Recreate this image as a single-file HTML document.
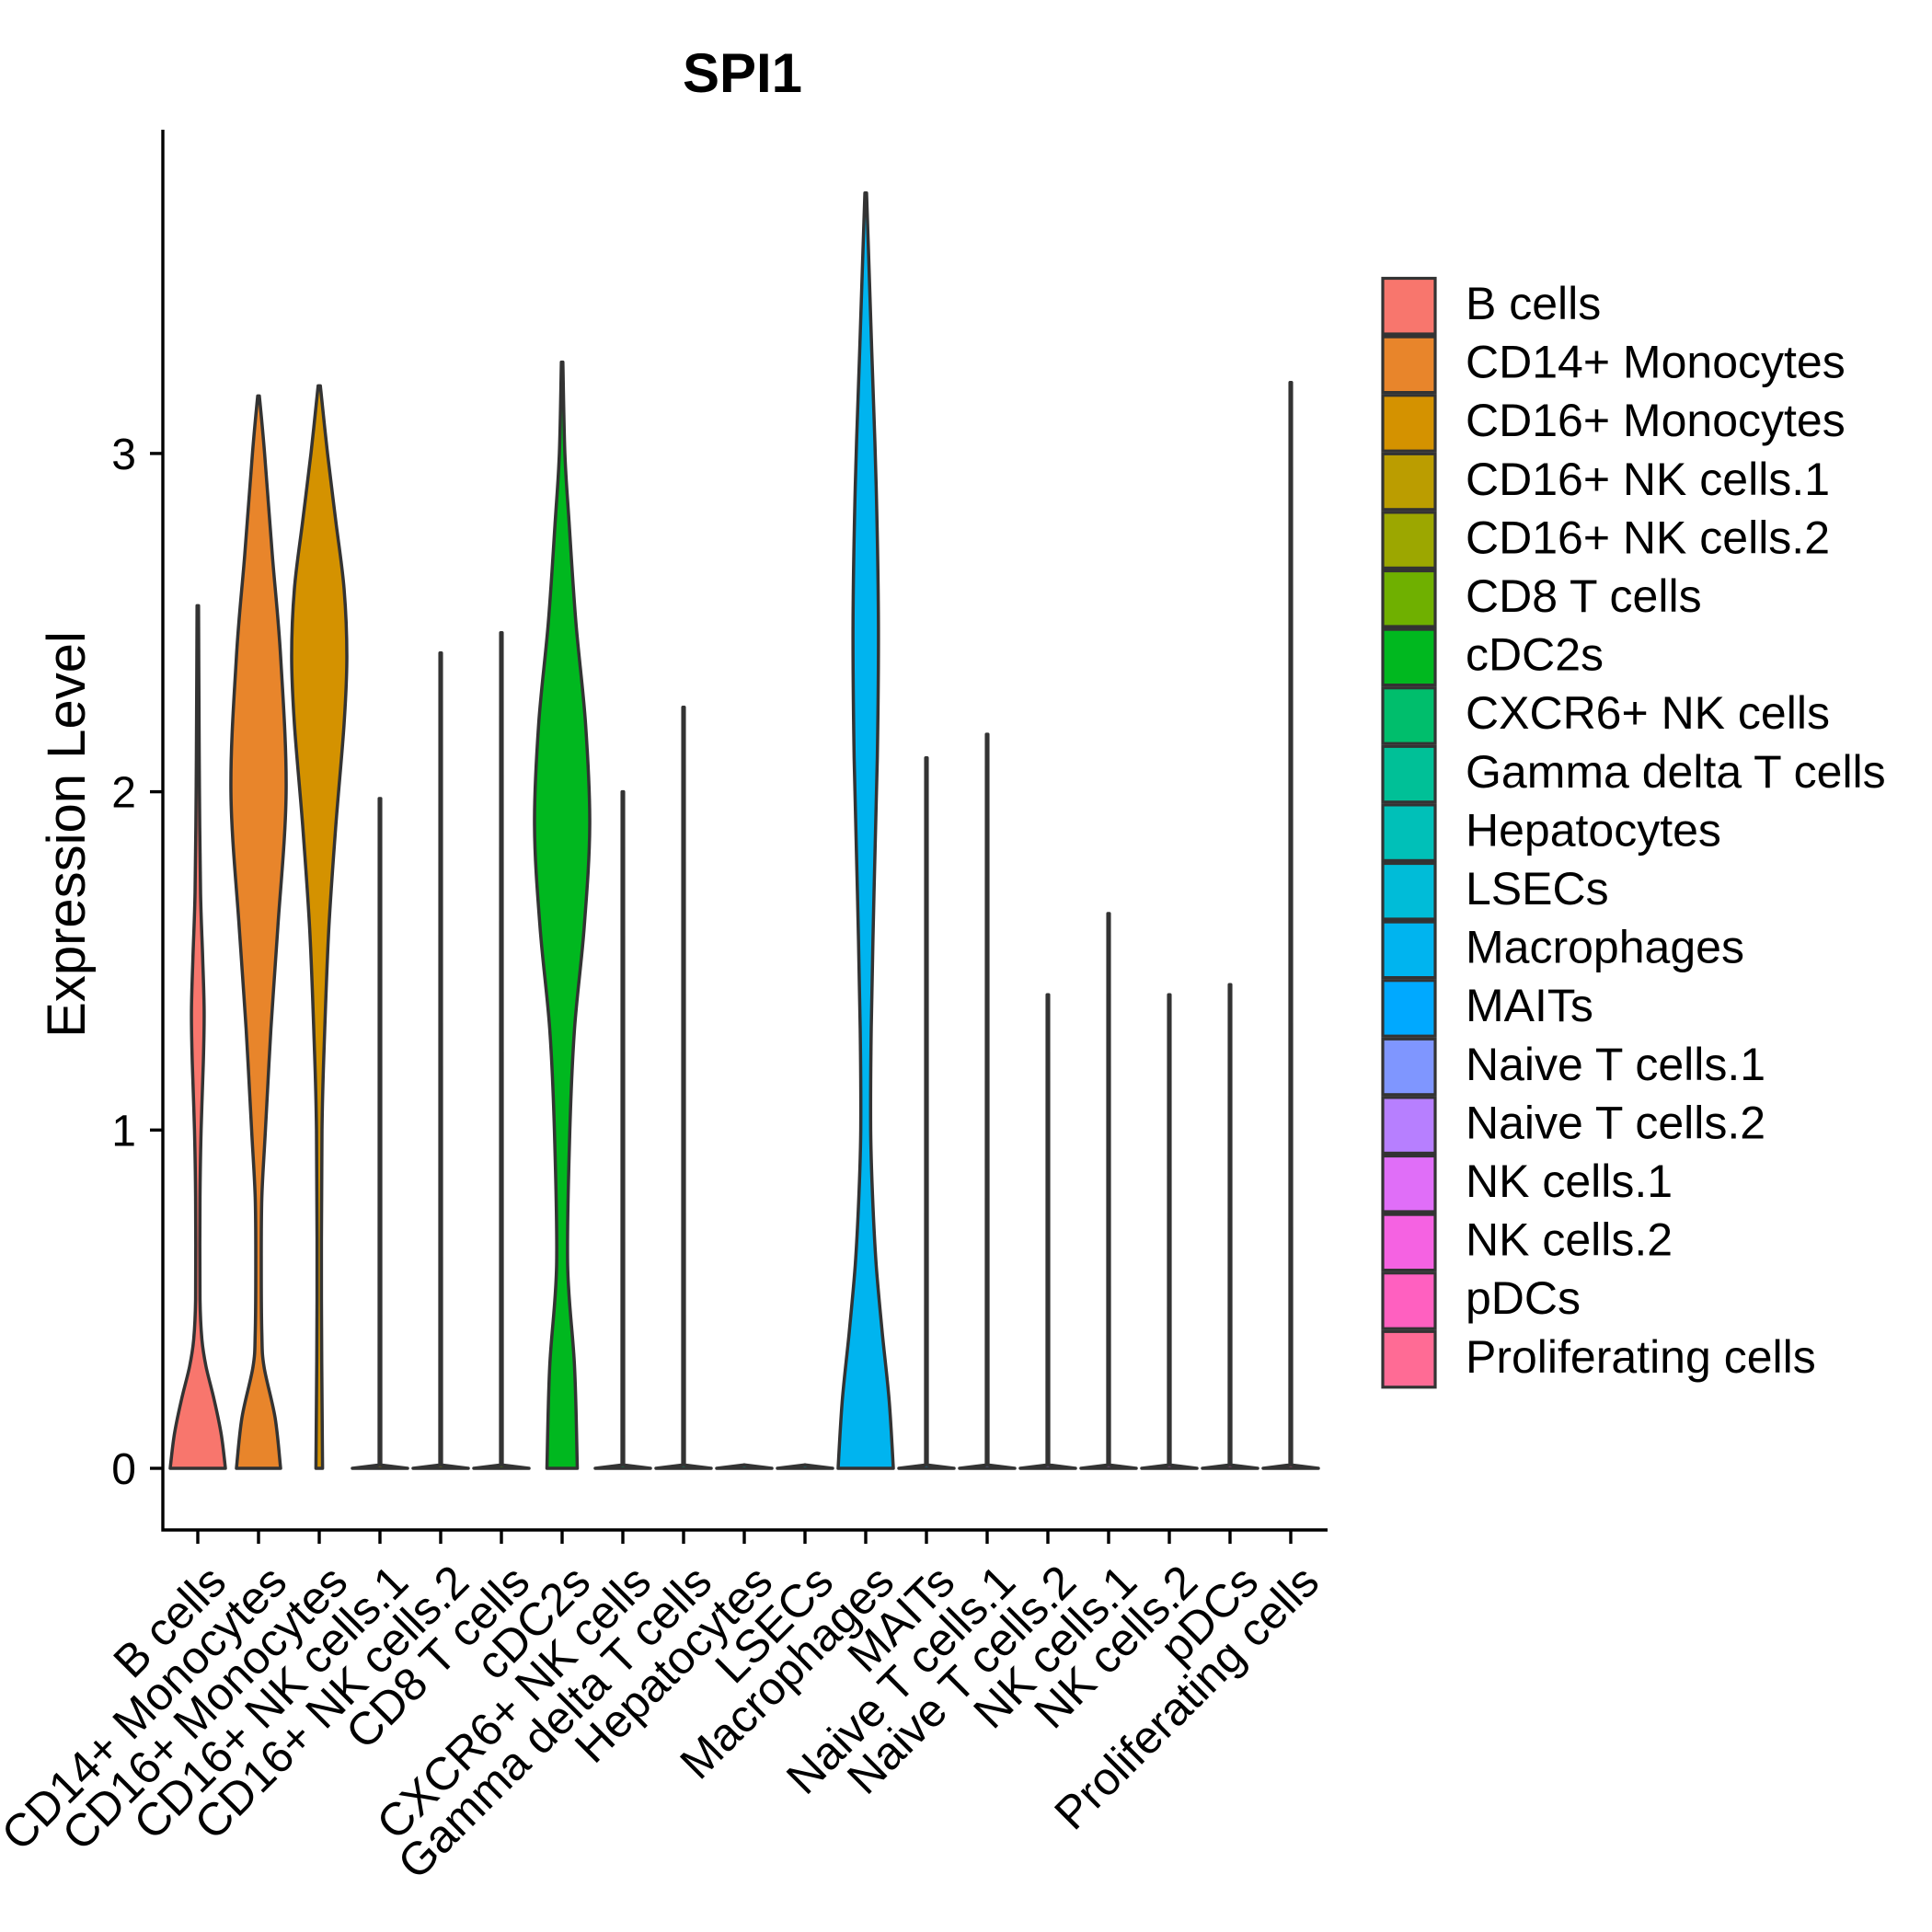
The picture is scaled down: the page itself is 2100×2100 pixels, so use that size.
<!DOCTYPE html>
<html><head><meta charset="utf-8"><style>
html,body{margin:0;padding:0;background:#fff;}
svg{display:block;font-family:"Liberation Sans",Arial,sans-serif;}
</style></head><body>
<svg id="chart" width="2100" height="2100" viewBox="0 0 2100 2100" xmlns="http://www.w3.org/2000/svg">
<text x="807" y="100" text-anchor="middle" font-size="60" font-weight="bold">SPI1</text>
<text transform="translate(92,907) rotate(-90)" text-anchor="middle" font-size="58">Expression Level</text>
<g id="plot"></g>
<g id="legend"></g>
</svg>
<script>
const categories=["B cells","CD14+ Monocytes","CD16+ Monocytes","CD16+ NK cells.1","CD16+ NK cells.2","CD8 T cells","cDC2s","CXCR6+ NK cells","Gamma delta T cells","Hepatocytes","LSECs","Macrophages","MAITs","Naive T cells.1","Naive T cells.2","NK cells.1","NK cells.2","pDCs","Proliferating cells"];
const colors=["#F8766D","#E8852B","#D49200","#BB9D00","#9CA700","#6FB000","#00B81F","#00BE6C","#00C097","#00C0B8","#00BCD8","#00B4EF","#00A9FF","#7F96FF","#B77FFF","#E06EF8","#F562E2","#FF60C0","#FF6B95"];
const yTicks=[0,1,2,3];
const yTickLabels=["0","1","2","3"];
// density profiles: y values and relative half-widths
const profY=[
[0,0.1,0.2,0.3,0.38,0.5,0.8,1.0,1.2,1.35,1.5,1.7,2.0,2.3,2.55],
[0,0.15,0.3,0.4,0.6,0.8,1.0,1.3,1.6,2.0,2.4,2.7,3.0,3.17],
[0,0.5,1.0,1.3,1.6,1.9,2.2,2.4,2.6,2.8,3.0,3.2],
[0,0.01,1.98],
[0,0.01,2.41],
[0,0.01,2.47],
[0,0.3,0.6,1.0,1.3,1.6,1.9,2.2,2.5,2.8,3.0,3.27],
[0,0.01,2.0],
[0,0.01,2.25],
[0,0.01],
[0,0.01],
[0,0.2,0.4,0.6,0.8,1.0,1.3,1.7,2.1,2.5,2.9,3.3,3.6,3.77],
[0,0.01,2.1],
[0,0.01,2.17],
[0,0.01,1.4],
[0,0.01,1.64],
[0,0.01,1.4],
[0,0.01,1.43],
[0,0.01,3.21]];
const profW=[
[1,0.85,0.6,0.3,0.15,0.08,0.08,0.12,0.2,0.23,0.18,0.1,0.06,0.04,0.02],
[0.8,0.6,0.2,0.12,0.1,0.12,0.25,0.45,0.7,1.0,0.8,0.5,0.22,0.03],
[0.12,0.08,0.1,0.2,0.35,0.6,0.9,1.0,0.9,0.6,0.3,0.04],
[1,0.03,0.02],
[1,0.03,0.02],
[1,0.03,0.02],
[0.55,0.45,0.2,0.28,0.45,0.8,1.0,0.85,0.5,0.25,0.1,0.02],
[1,0.03,0.02],
[1,0.03,0.02],
[1,0],
[1,0],
[1,0.85,0.6,0.38,0.25,0.18,0.2,0.3,0.42,0.46,0.38,0.22,0.1,0.03],
[1,0.03,0.02],
[1,0.03,0.02],
[1,0.03,0.02],
[1,0.03,0.02],
[1,0.03,0.02],
[1,0.03,0.02],
[1,0.03,0.02]];

const NS="http://www.w3.org/2000/svg";
const X0=215, STEP=66.0, Y0=1596, UNIT=367.7;
const xScale=i=>X0+i*STEP;
const yScale=v=>Y0-v*UNIT;
const HALF=0.455*STEP;
const plot=document.getElementById('plot');
const legend=document.getElementById('legend');
function mk(tag,attrs,parent){const e=document.createElementNS(NS,tag);for(const k in attrs)e.setAttribute(k,attrs[k]);parent.appendChild(e);return e;}
const f=v=>v.toFixed(1);
// smooth one side (points ordered), returns segment commands (no initial M)
function side(pts,cx,sgn){
  let d="";
  for(let i=0;i<pts.length-1;i++){
    const p0=pts[Math.max(i-1,0)],p1=pts[i],p2=pts[i+1],p3=pts[Math.min(i+2,pts.length-1)];
    let c1=[p1[0]+(p2[0]-p0[0])/6,p1[1]+(p2[1]-p0[1])/6];
    let c2=[p2[0]-(p3[0]-p1[0])/6,p2[1]-(p3[1]-p1[1])/6];
    const lo=Math.min(p1[1],p2[1]),hi=Math.max(p1[1],p2[1]);
    c1[1]=Math.min(hi,Math.max(lo,c1[1]));c2[1]=Math.min(hi,Math.max(lo,c2[1]));
    if(sgn>0){c1[0]=Math.max(cx+0.5,c1[0]);c2[0]=Math.max(cx+0.5,c2[0]);}
    else{c1[0]=Math.min(cx-0.5,c1[0]);c2[0]=Math.min(cx-0.5,c2[0]);}
    d+=" C"+f(c1[0])+","+f(c1[1])+" "+f(c2[0])+","+f(c2[1])+" "+f(p2[0])+","+f(p2[1]);
  }
  return d;
}

categories.forEach((c,i)=>{
  const cx=xScale(i);
  const ys=profY[i], ws=profW[i];
  let right=[],left=[];
  for(let k=0;k<ys.length;k++){
    const w=Math.max(ws[k]*HALF,0.8);
    right.push([cx+w,yScale(ys[k])]);
    left.unshift([cx-w,yScale(ys[k])]);
  }
  let d;
  if(ys.length>3){
    d="M"+f(right[0][0])+","+f(right[0][1])+side(right,cx,1)+" L"+f(left[0][0])+","+f(left[0][1])+side(left,cx,-1)+" Z";
  } else {
    d="M"+right.concat(left).map(p=>f(p[0])+","+f(p[1])).join(" L")+" Z";
  }
  const p=mk('path',{d:d,fill:colors[i],stroke:"#333333","stroke-width":3.5,"stroke-linejoin":"round"},plot);
  
  
});

// axes
const ax=mk('path',{d:"M177,141 V1663 H1443",fill:"none",stroke:"#000","stroke-width":3.4},plot);


yTicks.forEach((v,k)=>{
  const y=yScale(v);
  const t=mk('line',{x1:163,x2:177,y1:y,y2:y,stroke:"#000","stroke-width":3.4},plot);
  
  
  const l=mk('text',{x:148,y:y+17,"text-anchor":"end","font-size":48},plot);
  l.textContent=yTickLabels[k];
  
  
});
categories.forEach((c,i)=>{
  const x=xScale(i);
  const t=mk('line',{x1:x,x2:x,y1:1663,y2:1678,stroke:"#000","stroke-width":3.4},plot);
  
  
  const l=mk('text',{transform:`translate(${x+8},${1697}) rotate(-45)`,"text-anchor":"end","dominant-baseline":"hanging","font-size":50},plot);
  l.textContent=c;
  
  
});

// legend
categories.forEach((c,i)=>{
  const top=301+i*63.6;
  const g=mk('g',{},legend);
  
  
  mk('rect',{x:1503,y:top+1.5,width:57,height:60.5,fill:colors[i],stroke:"#333333","stroke-width":3.2},g);
  const t=mk('text',{x:1593,y:top+46,"font-size":50},g);
  t.textContent=c;
});
</script>
</body></html>
